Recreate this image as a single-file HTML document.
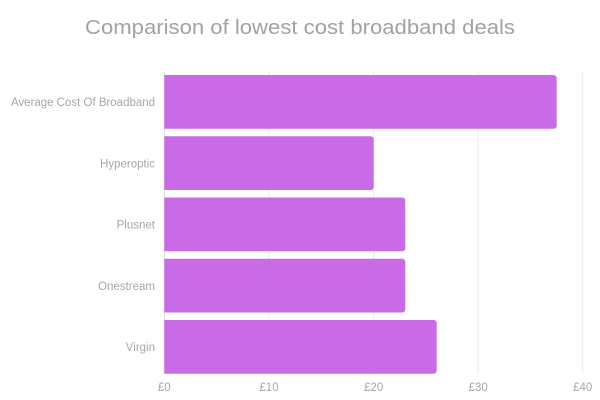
<!DOCTYPE html>
<html><head><meta charset="utf-8"><style>
html,body{margin:0;padding:0;background:#fff;}
svg{display:block;}
text{font-family:"Liberation Sans",Arial,sans-serif;}
</style></head><body>
<svg width="600" height="400" viewBox="0 0 600 400" xmlns="http://www.w3.org/2000/svg">
<rect width="600" height="400" fill="#fff"/>
<text x="300" y="34" text-anchor="middle" font-size="20" fill="#a2a2a2" textLength="430" lengthAdjust="spacingAndGlyphs">Comparison of lowest cost broadband deals</text>
<g stroke="#ebebeb" stroke-width="1">
<line x1="269" y1="72" x2="269" y2="374"/>
<line x1="373.7" y1="72" x2="373.7" y2="374"/>
<line x1="478.2" y1="72" x2="478.2" y2="374"/>
<line x1="582.7" y1="72" x2="582.7" y2="374"/>
<line x1="164.3" y1="72" x2="164.3" y2="374" stroke="#d8d8d8"/>
</g>
<g fill="#c96be6">
<path d="M164.3,75 H553.7 a3,3 0 0 1 3,3 V125.7 a3,3 0 0 1 -3,3 H164.3 Z"/>
<path d="M164.3,136.3 H370.7 a3,3 0 0 1 3,3 V187 a3,3 0 0 1 -3,3 H164.3 Z"/>
<path d="M164.3,197.5 H402.3 a3,3 0 0 1 3,3 V248.2 a3,3 0 0 1 -3,3 H164.3 Z"/>
<path d="M164.3,258.8 H402.3 a3,3 0 0 1 3,3 V309.5 a3,3 0 0 1 -3,3 H164.3 Z"/>
<path d="M164.3,320 H433.7 a3,3 0 0 1 3,3 V370.7 a3,3 0 0 1 -3,3 H164.3 Z"/>
</g>
<g fill="#a6a6a6" font-size="11.5" text-anchor="end">
<text x="155" y="106" textLength="144" lengthAdjust="spacingAndGlyphs">Average Cost Of Broadband</text>
<text x="155" y="167.3">Hyperoptic</text>
<text x="155" y="228.5">Plusnet</text>
<text x="155" y="289.8">Onestream</text>
<text x="155" y="351">Virgin</text>
</g>
<g fill="#a6a6a6" font-size="11.5" text-anchor="middle">
<text x="164.3" y="391">£0</text>
<text x="269" y="391">£10</text>
<text x="373.7" y="391">£20</text>
<text x="478.2" y="391">£30</text>
<text x="582.7" y="391">£40</text>
</g>
</svg>
</body></html>
